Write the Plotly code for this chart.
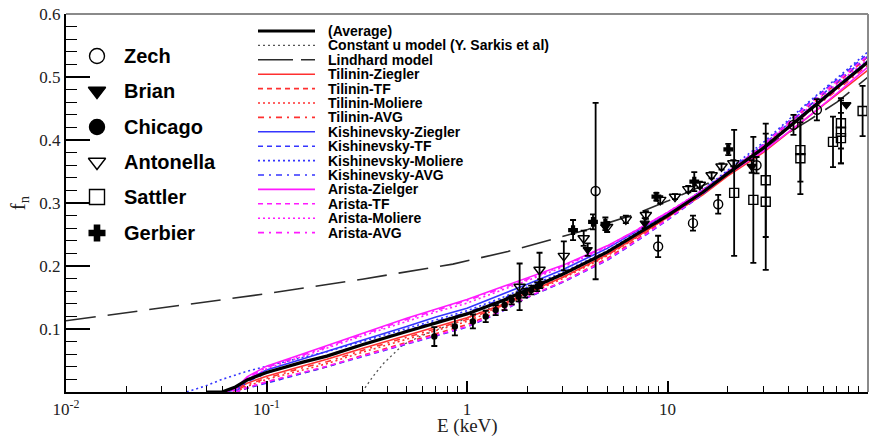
import plotly.graph_objects as go

# ---------------- model curves: f_n vs recoil energy E (keV) ----------------
E_MODEL = [0.04, 0.05, 0.06, 0.07, 0.08, 0.1, 0.15, 0.2, 0.3, 0.5, 0.7, 1,
           1.5, 2, 3, 5, 7, 10, 15, 20, 30, 50, 70, 100]

AVERAGE = [None, 0, 0, 0.008, 0.019, 0.031, 0.047, 0.057, 0.075, 0.096, 0.11, 0.124,
           0.145, 0.163, 0.187, 0.222, 0.25, 0.28, 0.317, 0.347, 0.387, 0.445, 0.483, 0.524]

TILININ_ZIEGLER = [None, None, 0, 0.004, 0.014, 0.025, 0.041, 0.052, 0.069, 0.09, 0.104, 0.118,
                   0.139, 0.158, 0.182, 0.218, 0.246, 0.277, 0.313, 0.343, 0.38, 0.436, 0.472, 0.511]
TILININ_TF = [None, None, None, 0, 0.006, 0.016, 0.03, 0.04, 0.058, 0.079, 0.093, 0.107,
              0.13, 0.15, 0.175, 0.212, 0.242, 0.276, 0.316, 0.347, 0.391, 0.452, 0.49, 0.532]
TILININ_MOLIERE = [None, None, None, 0, 0.009, 0.02, 0.035, 0.045, 0.063, 0.084, 0.098, 0.112,
                   0.135, 0.155, 0.18, 0.216, 0.245, 0.278, 0.317, 0.348, 0.389, 0.447, 0.485, 0.524]
TILININ_AVG = [None, None, 0, 0.002, 0.011, 0.022, 0.038, 0.048, 0.066, 0.087, 0.101, 0.115,
               0.137, 0.157, 0.182, 0.217, 0.246, 0.278, 0.316, 0.347, 0.386, 0.443, 0.479, 0.519]

KISH_ZIEGLER = [None, None, 0, 0.003, 0.02, 0.035, 0.052, 0.064, 0.082, 0.104, 0.119, 0.133,
                0.155, 0.171, 0.194, 0.228, 0.255, 0.284, 0.319, 0.348, 0.388, 0.447, 0.485, 0.526]
KISH_TF = [None, None, None, 0, 0.006, 0.014, 0.029, 0.04, 0.056, 0.076, 0.089, 0.103,
           0.128, 0.15, 0.174, 0.209, 0.239, 0.273, 0.314, 0.347, 0.393, 0.457, 0.496, 0.537]
KISH_MOLIERE = [0, 0.01, 0.02, 0.027, 0.033, 0.041, 0.054, 0.064, 0.08, 0.101, 0.115, 0.129,
                0.15, 0.167, 0.19, 0.224, 0.252, 0.283, 0.321, 0.352, 0.396, 0.459, 0.499, 0.54]
KISH_AVG = [None, None, None, 0, 0.016, 0.03, 0.046, 0.058, 0.076, 0.098, 0.112, 0.126,
            0.148, 0.165, 0.188, 0.222, 0.25, 0.281, 0.319, 0.35, 0.392, 0.453, 0.492, 0.533]

ARISTA_ZIELGER = [None, None, 0, 0.005, 0.024, 0.041, 0.06, 0.074, 0.093, 0.117, 0.132, 0.147,
                  0.167, 0.181, 0.201, 0.232, 0.257, 0.285, 0.319, 0.346, 0.382, 0.436, 0.474, 0.516]
ARISTA_TF = [None, None, None, 0, 0.007, 0.016, 0.03, 0.041, 0.057, 0.077, 0.09, 0.104,
             0.129, 0.151, 0.175, 0.21, 0.24, 0.274, 0.315, 0.347, 0.392, 0.455, 0.494, 0.534]
ARISTA_MOLIERE = [None, None, 0, 0.003, 0.02, 0.037, 0.056, 0.07, 0.089, 0.112, 0.127, 0.141,
                  0.162, 0.177, 0.198, 0.23, 0.256, 0.285, 0.321, 0.35, 0.391, 0.45, 0.489, 0.529]
ARISTA_AVG = [None, None, 0, 0.004, 0.022, 0.039, 0.058, 0.072, 0.091, 0.115, 0.13, 0.145,
              0.165, 0.179, 0.2, 0.231, 0.257, 0.285, 0.32, 0.348, 0.386, 0.443, 0.481, 0.521]

E_CONST_U = [0.3, 0.34, 0.385, 0.48, 0.6, 0.8, 1, 2, 3, 5, 7, 10, 20, 30, 50, 100]
F_CONST_U = [0, 0.025, 0.046, 0.075, 0.09, 0.105, 0.117, 0.16, 0.185, 0.221, 0.25, 0.281,
             0.349, 0.389, 0.448, 0.527]

E_LINDHARD = [0.01, 0.03, 0.1, 0.3, 0.85, 1.6, 2.4, 4, 7, 10, 20, 35, 50, 70, 100]
F_LINDHARD = [0.113, 0.134, 0.156, 0.179, 0.203, 0.223, 0.238, 0.258, 0.283, 0.303,
              0.345, 0.40, 0.43, 0.46, 0.50]

# ---------------- measurements ----------------
ZECH_E = [4.38, 8.98, 13.4, 17.9, 27.8, 42.5, 55.6]
ZECH_F = [0.319, 0.231, 0.268, 0.298, 0.36, 0.424, 0.448]
ZECH_ERR = [0.14, 0.017, 0.012, 0.015, 0.013, 0.016, 0.017]

BRIAN_E = [4.0, 4.9, 7.7, 26.3, 78]
BRIAN_F = [0.226, 0.262, 0.268, 0.358, 0.456]
BRIAN_ERR = [0.01, 0.0, 0.008, 0.01, 0.0]

CHICAGO_E = [0.687, 0.87, 1.07, 1.24, 1.39, 1.54, 1.67, 1.81, 1.95, 2.09, 2.24, 2.32]
CHICAGO_F = [0.088, 0.104, 0.112, 0.12, 0.13, 0.138, 0.146, 0.151, 0.157, 0.162, 0.167, 0.172]
CHICAGO_ERR = [0.015, 0.014, 0.011, 0.009, 0.008, 0.008, 0.007, 0.007, 0.007, 0.007, 0.007, 0.007]

ANTONELLA_E = [1.83, 2.3, 3.04, 3.82, 5.0, 6.2, 7.8, 9.2, 10.9, 12.7, 14.5, 16.6, 18.6, 21.3]
ANTONELLA_F = [0.167, 0.194, 0.216, 0.244, 0.262, 0.274, 0.281, 0.305, 0.31, 0.322, 0.329,
               0.344, 0.358, 0.363]
ANTONELLA_ERR = [0.037, 0.027, 0.023, 0.012, 0.008, 0.006, 0.006, 0.006, 0.004, 0.005, 0.005,
                 0.005, 0.005, 0.005]

SATTLER_E = [21.5, 26.8, 30.9, 30.9, 46, 46, 66.9, 73.3, 73.3, 73.3, 94]
SATTLER_F = [0.316, 0.305, 0.336, 0.302, 0.384, 0.371, 0.397, 0.4265, 0.413, 0.403, 0.446]
SATTLER_ERR = [0.1, 0.1, 0.09, 0.108, 0.05, 0.057, 0.04, 0.04, 0.05, 0.04, 0.04]

GERBIER_E = [3.38, 4.25, 4.9, 8.8, 13.6, 20.1]
GERBIER_F = [0.257, 0.27, 0.267, 0.31, 0.334, 0.385]
GERBIER_ERR = [0.016, 0.012, 0.01, 0.006, 0.015, 0.009]

X_TICKS = [0.01, 0.1, 1, 10, 100]
X_TICK_TEXT = ["10<sup>-2</sup>", "10<sup>-1</sup>", "1", "10", "10<sup>2</sup>"]
Y_TICKS = [0.1, 0.2, 0.3, 0.4, 0.5, 0.6]
Y_TICK_TEXT = ["0.1", "0.2", "0.3", "0.4", "0.5", "0.6"]

RED = "#ff3030"
BLUE = "#3535ff"
MAGENTA = "#ff1aff"
DASH = "5px,4px"
DOT = "2px,3px"
DASHDOT = "6px,5px,2px,5px"

MODELS = [
    ("Tilinin-Ziegler", TILININ_ZIEGLER, RED, "solid"),
    ("Tilinin-TF", TILININ_TF, RED, DASH),
    ("Tilinin-Moliere", TILININ_MOLIERE, RED, DOT),
    ("Tilinin-AVG", TILININ_AVG, RED, DASHDOT),
    ("Kishinevsky-Ziegler", KISH_ZIEGLER, BLUE, "solid"),
    ("Kishinevsky-TF", KISH_TF, BLUE, DASH),
    ("Kishinevsky-Moliere", KISH_MOLIERE, BLUE, DOT),
    ("Kishinevsky-AVG", KISH_AVG, BLUE, DASHDOT),
    ("Arista-Zielger", ARISTA_ZIELGER, MAGENTA, "solid"),
    ("Arista-TF", ARISTA_TF, MAGENTA, DASH),
    ("Arista-Moliere", ARISTA_MOLIERE, MAGENTA, DOT),
    ("Arista-AVG", ARISTA_AVG, MAGENTA, DASHDOT),
]

fig = go.Figure()

# reference models
fig.add_trace(go.Scatter(x=E_LINDHARD, y=F_LINDHARD, mode="lines",
                         line=dict(color="#2b2b2b", width=1.6, dash="30px,12px"),
                         showlegend=False))
fig.add_trace(go.Scatter(x=E_CONST_U, y=F_CONST_U, mode="lines",
                         line=dict(color="#555555", width=1.3, dash="2px,3px"),
                         showlegend=False))
for name, vals, color, dash in MODELS:
    fig.add_trace(go.Scatter(x=E_MODEL, y=vals, mode="lines", name=name,
                             line=dict(color=color, width=1.6, dash=dash),
                             showlegend=False))
fig.add_trace(go.Scatter(x=E_MODEL, y=AVERAGE, mode="lines", name="(Average)",
                         line=dict(color="black", width=3.2), showlegend=False))


def data_trace(ex, fy, err, symbol, size, name):
    return go.Scatter(
        x=ex, y=fy, mode="markers", name=name, showlegend=False,
        marker=dict(symbol=symbol, size=size, color="black",
                    line=dict(color="black", width=1.4)),
        error_y=dict(type="data", array=err, visible=True, color="black",
                     thickness=1.8, width=3),
    )


fig.add_trace(data_trace(SATTLER_E, SATTLER_F, SATTLER_ERR, "square-open", 9, "Sattler"))
fig.add_trace(data_trace(ZECH_E, ZECH_F, ZECH_ERR, "circle-open", 9, "Zech"))
fig.add_trace(data_trace(ANTONELLA_E, ANTONELLA_F, ANTONELLA_ERR, "triangle-down-open", 10, "Antonella"))
fig.add_trace(data_trace(CHICAGO_E, CHICAGO_F, CHICAGO_ERR, "circle", 5, "Chicago"))
fig.add_trace(data_trace(BRIAN_E, BRIAN_F, BRIAN_ERR, "triangle-down", 8, "Brian"))
fig.add_trace(data_trace(GERBIER_E, GERBIER_F, GERBIER_ERR, "cross", 7, "Gerbier"))

# ---------------- legend glyphs on a pixel-unit overlay ----------------
LEFT_NAMES = ["Zech", "Brian", "Chicago", "Antonella", "Sattler", "Gerbier"]
LEFT_SYMBOLS = ["circle-open", "triangle-down", "circle", "triangle-down-open", "square-open", "cross"]
LEFT_Y = [56, 91, 127, 162, 197, 233]
for nm, sym, yy in zip(LEFT_NAMES, LEFT_SYMBOLS, LEFT_Y):
    fig.add_trace(go.Scatter(x=[97], y=[yy], xaxis="x2", yaxis="y2", mode="markers",
                             marker=dict(symbol=sym, size=15 if sym != "cross" else 13,
                                         color="black", line=dict(color="black", width=1.4)),
                             showlegend=False, hoverinfo="skip"))
    fig.add_annotation(x=123, y=yy, xref="x2", yref="y2", text=nm, showarrow=False,
                       xanchor="left", yanchor="middle", borderpad=0,
                       font=dict(family="Liberation Sans", size=20, color="black", weight="bold"))

RIGHT_ENTRIES = [("(Average)", "black", "solid", 3.2),
                 ("Constant u model (Y. Sarkis et al)", "#555555", "2px,3px", 1.3),
                 ("Lindhard model", "#2b2b2b", "35px,8px", 1.6)]
RIGHT_ENTRIES += [(n, c, d, 1.6) for n, _, c, d in MODELS]
for i, (nm, color, dash, w) in enumerate(RIGHT_ENTRIES):
    yy = 31 + 14.4 * i
    fig.add_trace(go.Scatter(x=[258, 315], y=[yy, yy], xaxis="x2", yaxis="y2", mode="lines",
                             line=dict(color=color, width=w, dash=dash),
                             showlegend=False, hoverinfo="skip"))
    fig.add_annotation(x=327, y=yy, xref="x2", yref="y2", text=nm, showarrow=False,
                       xanchor="left", yanchor="middle", borderpad=0,
                       font=dict(family="Liberation Sans", size=14, color="black", weight="bold"))

# x-axis title, set just under the tick labels
fig.add_annotation(x=0.5, y=-0.089, xref="paper", yref="paper", text="E (keV)",
                   showarrow=False, xanchor="center", yanchor="middle", borderpad=0,
                   font=dict(family="Liberation Serif", size=19, color="#222222"))

# upper and right frame lines
fig.add_shape(type="line", xref="paper", yref="paper", x0=0, x1=1, y0=1, y1=1,
              line=dict(color="#8a8a8a", width=2))
fig.add_shape(type="line", xref="paper", yref="paper", x0=1, x1=1, y0=0, y1=1,
              line=dict(color="#8a8a8a", width=2))

MINOR_X = [m * 10.0 ** k for k in (-2, -1, 0, 1) for m in range(2, 10)]
tick_font = dict(family="Liberation Serif", size=17, color="#222222")

fig.update_layout(
    width=875, height=438, autosize=False,
    margin=dict(l=66, r=7, t=14, b=46, autoexpand=False),
    paper_bgcolor="white", plot_bgcolor="white",
    xaxis=dict(type="log", range=[-2, 2], showgrid=False, zeroline=False, automargin=False,
               showline=True, linecolor="black", linewidth=2,
               ticks="inside", ticklen=11, tickwidth=1.5, tickcolor="black",
               tickvals=X_TICKS, ticktext=X_TICK_TEXT, tickfont=tick_font,
               ticklabelstandoff=1,
               minor=dict(tickvals=MINOR_X, ticks="inside", ticklen=6,
                          tickwidth=1.3, tickcolor="black", showgrid=False)),
    yaxis=dict(range=[0, 0.6], showgrid=False, zeroline=False, automargin=False,
               showline=True, linecolor="black", linewidth=2,
               ticks="inside", ticklen=24, tickwidth=1.5, tickcolor="black",
               tickvals=Y_TICKS, ticktext=Y_TICK_TEXT, tickfont=tick_font,
               minor=dict(dtick=0.02, tick0=0, ticks="inside", ticklen=11,
                          tickwidth=1.3, tickcolor="black", showgrid=False),
               title=dict(text="f<sub>n</sub>", standoff=8,
                          font=dict(family="Liberation Serif", size=21, color="#222222"))),
    xaxis2=dict(overlaying="x", range=[66, 868], visible=False, fixedrange=True),
    yaxis2=dict(overlaying="y", range=[392, 14], visible=False, fixedrange=True),
)

fig.write_html("out.html")
